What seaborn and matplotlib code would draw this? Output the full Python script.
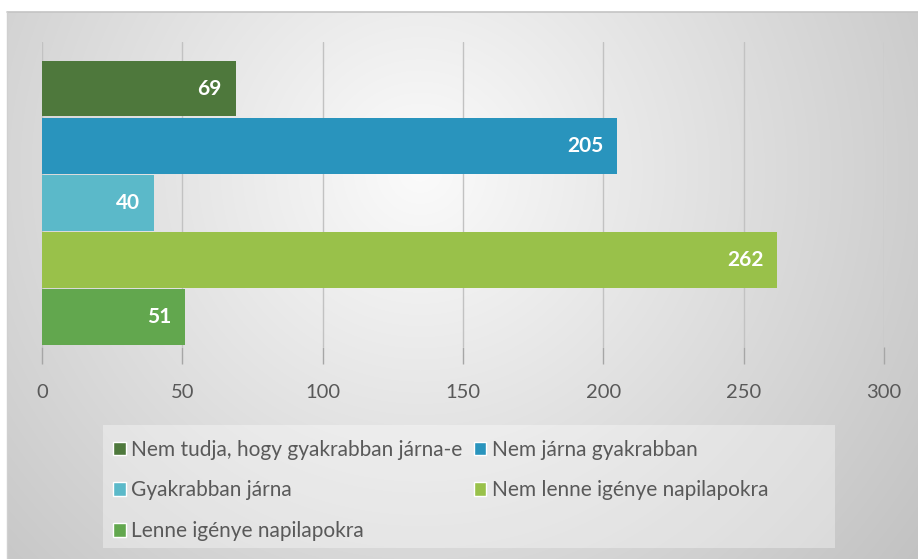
import matplotlib.pyplot as plt
import seaborn as sns
import pandas as pd
import numpy as np
from matplotlib.patches import Patch, Rectangle

# Data
categories = [
    "Nem tudja, hogy gyakrabban járna-e",
    "Nem járna gyakrabban",
    "Gyakrabban járna",
    "Nem lenne igénye napilapokra",
    "Lenne igénye napilapokra",
]
values = [69, 205, 40, 262, 51]
colors = ["#4e783c", "#2994bd", "#5bb9c9", "#99c14a", "#62a74e"]
xticks = [0, 50, 100, 150, 200, 250, 300]

df = pd.DataFrame({"category": categories, "value": values})

sns.set_style("white")
plt.rcParams["font.family"] = ["Lato", "DejaVu Sans"]

W, H = 918, 559
fig = plt.figure(figsize=(W / 100, H / 100), dpi=100)

# Radial gradient background of the chart area
bg = fig.add_axes([7 / W, 0, (W - 7) / W, (H - 12) / H], zorder=0)
xx, yy = np.meshgrid(np.arange(7, W), np.arange(12, H))
d = np.sqrt((xx - 420) ** 2 + (yy - 170) ** 2)
g = np.clip(251 - 0.09 * d, 185, 251) / 255
bg.imshow(np.dstack([g, g, g]), extent=[0, 1, 0, 1], aspect="auto", origin="upper")
bg.set_axis_off()
fig.add_artist(plt.Line2D([7 / W, 1], [1 - 12 / H] * 2, color="#c4c4c4", lw=1.2))
fig.add_artist(plt.Line2D([7 / W] * 2, [0, 1 - 12 / H], color="#d0d0d0", lw=1.0))

# Main axes
ax = fig.add_axes([42 / W, 1 - 347 / H, 842 / W, (347 - 42) / H], zorder=2)
ax.set_facecolor("none")
sns.barplot(
    data=df, y="category", x="value", hue="category", palette=colors,
    orient="h", width=0.975, legend=False, saturation=1, linewidth=0,
    ax=ax, zorder=3,
)
for c in ax.containers:
    for t in ax.bar_label(c, padding=-10, color="white", fontsize=15, fontweight="bold"):
        t.set_ha("right")

ax.set_xlim(0, 300)
ax.set_ylim(4.52, -0.815)
ax.set_xticks(xticks)
ax.set_yticks([])
ax.set_xlabel("")
ax.set_ylabel("")
ax.xaxis.grid(True, color="#c2c2c2", lw=1, zorder=0)
ax.set_axisbelow(True)
for s in ax.spines.values():
    s.set_visible(False)
ax.tick_params(axis="x", bottom=True, length=12.5, width=1, color="#a6a6a6",
               pad=14, labelsize=14.5, labelcolor="#595959")

# Legend box
fig.add_artist(Rectangle((103 / W, 1 - 548 / H), (835 - 103) / W, (548 - 425) / H,
                         transform=fig.transFigure, facecolor="#ffffff", alpha=0.35,
                         edgecolor="none", zorder=1))
order = [0, 2, 4, 1, 3]
handles = [Patch(facecolor=colors[i], label=categories[i]) for i in order]
fig.legend(handles=handles, ncol=2, loc="upper left",
           bbox_to_anchor=(96 / W, 1 - 423 / H), frameon=False,
           fontsize=15, labelcolor="#595959", handlelength=0.62, handleheight=0.62,
           handletextpad=0.25, columnspacing=0.55, labelspacing=1.0,
           borderpad=0.3)

fig.savefig("out.png", dpi=100)
